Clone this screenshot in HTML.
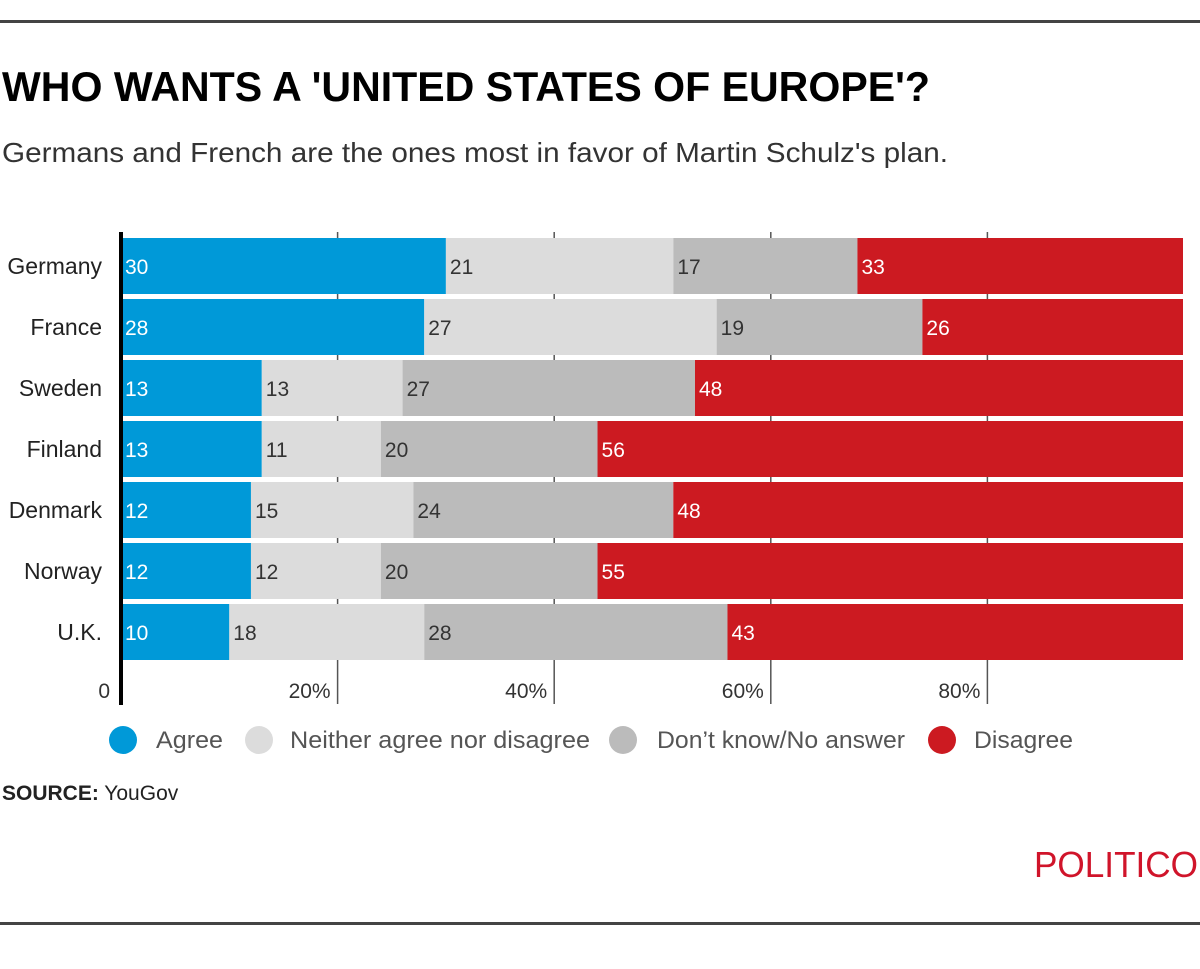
<!DOCTYPE html>
<html><head><meta charset="utf-8"><style>
body{margin:0;background:#fff;}
svg{display:block;font-family:"Liberation Sans",sans-serif;}
</style></head><body>
<svg width="1200" height="969" viewBox="0 0 1200 969">
<rect x="0" y="20" width="1200" height="3" fill="#444"/>
<text x="2" y="101" font-size="42" font-weight="bold" fill="#000" textLength="928" lengthAdjust="spacingAndGlyphs">WHO WANTS A 'UNITED STATES OF EUROPE'?</text>
<text x="2" y="162" font-size="28" fill="#333" textLength="946" lengthAdjust="spacingAndGlyphs">Germans and French are the ones most in favor of Martin Schulz's plan.</text>
<g id="grid"></g>
<g id="bars"></g>
<rect x="119" y="232" width="4" height="473" fill="#000"/>
<g id="ticks"></g>
<g id="legend"></g>
<text x="2" y="800" font-size="21" fill="#222"><tspan font-weight="bold">SOURCE:</tspan> YouGov</text>
<text x="1034" y="877" font-size="36" fill="#d0142a" textLength="164" lengthAdjust="spacingAndGlyphs">POLITICO</text>
<rect x="0" y="922" width="1200" height="3" fill="#444"/>
</svg>
<script>
const countries=["Germany","France","Sweden","Finland","Denmark","Norway","U.K."];
const agree=[30,28,13,13,12,12,10];
const neither=[21,27,13,11,15,12,18];
const dontKnow=[17,19,27,20,24,20,28];
const disagree=[33,26,48,56,48,55,43];
const tickValues=[20,40,60,80];
const tickLabels=["20%","40%","60%","80%"];
const seriesNames=["Agree","Neither agree nor disagree","Don’t know/No answer","Disagree"];
const NS="http://www.w3.org/2000/svg";
const X0=121,XMAX=1183,PX=10.83;
const x=v=>X0+v*PX;
const yRow=i=>238+i*61;
const BH=56;
const colors=["#0099d8","#dcdcdc","#bbbbbb","#cc1a21"];
const textColors=["#fff","#333","#333","#fff"];
function mk(tag,attrs,parent){const e=document.createElementNS(NS,tag);for(const k in attrs)e.setAttribute(k,attrs[k]);parent.appendChild(e);return e;}
const grid=document.getElementById('grid'),bars=document.getElementById('bars'),ticks=document.getElementById('ticks'),legend=document.getElementById('legend');
tickValues.forEach((t,i)=>{
 const l=mk('line',{x1:x(t),x2:x(t),y1:232,y2:704,stroke:'#555','stroke-width':1.5},grid);
 
 
 const tx=mk('text',{x:x(t)-7,y:698,'font-size':21,fill:'#333','text-anchor':'end'},ticks);
 tx.textContent=tickLabels[i];
 
 
});
const z=mk('text',{x:110,y:698,'font-size':21,fill:'#333','text-anchor':'end'},ticks);
z.textContent="0";


const series=[agree,neither,dontKnow,disagree];
countries.forEach((c,i)=>{
 const y=yRow(i);
 const lb=mk('text',{x:102,y:y+36,'font-size':23,fill:'#222','text-anchor':'end'},bars);
 lb.textContent=c;
 
 
 let acc=0;
 series.forEach((s,k)=>{
  const v=s[i];
  const x1=x(acc),x2=Math.min(x(acc+v),XMAX);
  const r=mk('rect',{x:x1,y:y,width:Math.max(0,x2-x1),height:BH,fill:colors[k]},bars);
  
  
  const t=mk('text',{x:x1+4,y:y+36,'font-size':21,fill:textColors[k]},bars);
  t.textContent=v;
  
  
  acc+=v;
 });
});
const lx=[123,259,623,942];
const tx0=[156,290,657,974];
const tl=[67,300,248,99];
seriesNames.forEach((n,k)=>{
 const c=mk('circle',{cx:lx[k],cy:740,r:14,fill:colors[k]},legend);
 
 
 const t=mk('text',{x:tx0[k],y:748,'font-size':24,fill:'#555',textLength:tl[k],lengthAdjust:'spacingAndGlyphs'},legend);
 t.textContent=n;
 
 
});
</script>
</body></html>
